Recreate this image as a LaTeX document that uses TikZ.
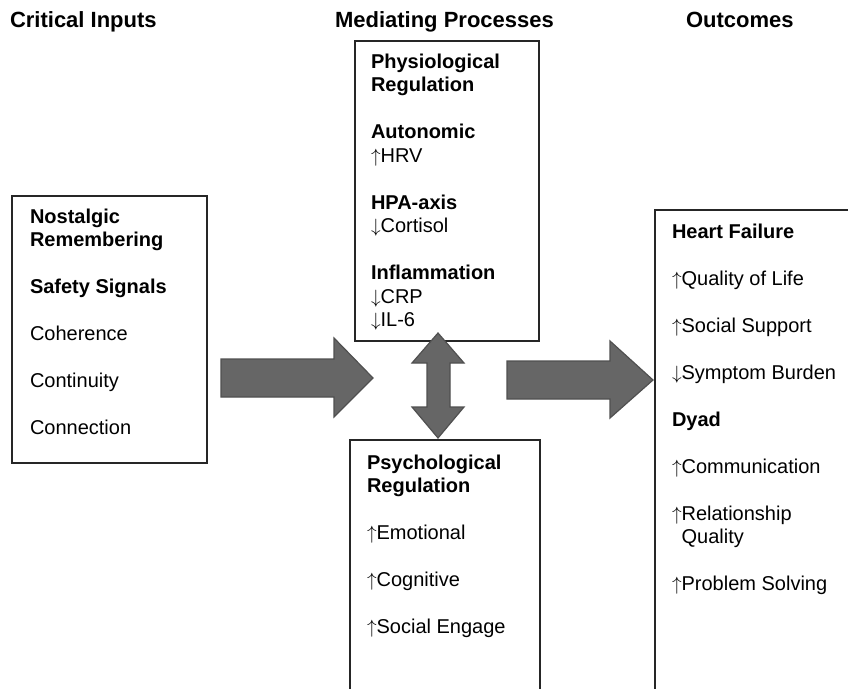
\documentclass[tikz,border=0pt]{standalone}
\usepackage{fontspec}
\setmainfont{Liberation Sans}
\definecolor{arrowfill}{RGB}{102,102,102}
\definecolor{arrowline}{RGB}{80,80,80}
\newcommand{\gap}{\\[17.6pt]}
\newcommand{\up}{$\uparrow$}
\newcommand{\dn}{$\downarrow$}

\begin{document}
\begin{tikzpicture}[x=0.75pt, y=-0.75pt,
  every node/.style={inner sep=0pt, outer sep=0pt, anchor=base west, align=left, font=\fontsize{15}{17.6}\selectfont},
  heading/.style={font=\fontsize{16.5}{19}\selectfont\bfseries},
  box/.style={draw=black!85, line width=0.9pt, fill=white},
  blockarrow/.style={draw=arrowline, fill=arrowfill, line width=0.9pt, line join=miter}]
\useasboundingbox (0,0) rectangle (848,688);
\clip (0,0) rectangle (848,688);

\node[heading] (inhead) at (10,28) {Critical Inputs};
\node[heading] (midhead) at (335,28) {Mediating Processes};
\node[heading] (outhead) at (686,28) {Outcomes};

\draw[box] (12,196) rectangle (207,463);
\draw[box] (355,41) rectangle (539,341);
\draw[box] (350,440) rectangle (540,700);
\draw[box] (655,210) rectangle (860,700);

\draw[blockarrow] (221,359) -- (334,359) -- (334,338) -- (373,378) -- (334,417) -- (334,397) -- (221,397) -- cycle;
\draw[blockarrow] (507,361) -- (610,361) -- (610,341) -- (653,380) -- (610,418) -- (610,399) -- (507,399) -- cycle;
\draw[blockarrow] (438,333) -- (464,363) -- (450,363) -- (450,407) -- (464,407) -- (438,438) -- (412,407) -- (427,407) -- (427,363) -- (412,363) -- cycle;

% base of a multi-line node sits on its last line
\node (inputs) at (30,434.5) {\textbf{Nostalgic}\\\textbf{Remembering}\gap\textbf{Safety Signals}\gap Coherence\gap Continuity\gap Connection};
\node (physio) at (371,326.5) {\textbf{Physiological}\\\textbf{Regulation}\gap\textbf{Autonomic}\\\up HRV\gap\textbf{HPA-axis}\\\dn Cortisol\gap\textbf{Inflammation}\\\dn CRP\\\dn IL-6};
\node (psycho) at (367,633.5) {\textbf{Psychological}\\\textbf{Regulation}\gap\up Emotional\gap\up Cognitive\gap\up Social Engage};
\node (outcomes) at (672,590.5) {\textbf{Heart Failure}\gap\up Quality of Life\gap\up Social Support\gap\dn Symptom Burden\gap\textbf{Dyad}\gap\up Communication\gap\up Relationship\\\phantom{\up}Quality\gap\up Problem Solving};
\end{tikzpicture}
\end{document}
